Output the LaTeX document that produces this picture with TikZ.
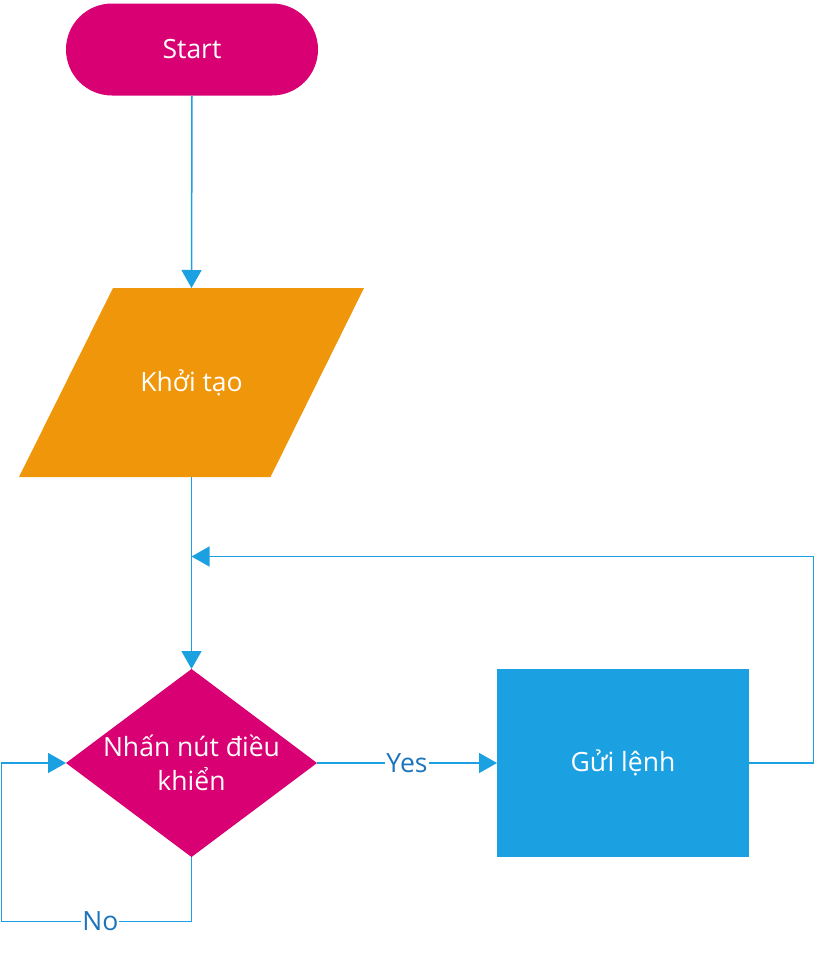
\documentclass[tikz,border=0pt]{standalone}
\usepackage{fontspec}
\setmainfont{Open Sans}
\usetikzlibrary{shapes.geometric,arrows.meta,positioning}
\definecolor{magentaC}{HTML}{D80073}
\definecolor{orangeC}{HTML}{F0960A}
\definecolor{blueC}{HTML}{1BA1E2}
\definecolor{labelC}{HTML}{1C75BC}
\tikzset{
  basefont/.style={font=\fontsize{26.5}{34}\selectfont},
  terminal/.style={basefont, rectangle, rounded corners=46pt, fill=magentaC, text=white,
    minimum width=252pt, minimum height=92pt, inner sep=0pt, outer sep=0pt},
  io/.style={basefont, rectangle, text=white,
    minimum width=345pt, minimum height=189pt, inner sep=0pt, outer sep=0pt},
  decision/.style={diamond, fill=magentaC, minimum width=251pt, minimum height=188pt,
    inner sep=0pt, outer sep=0pt},
  inner/.style={basefont, text=white, align=center, inner sep=0pt},
  process/.style={basefont, rectangle, fill=blueC, text=white,
    minimum width=252pt, minimum height=188pt, inner sep=0pt, outer sep=0pt},
  conn/.style={draw=blueC, line width=1.5pt, -{Triangle[length=18pt,width=20pt]}},
  lbl/.style={basefont, text=labelC, fill=white, inner sep=1pt}
}
\begin{document}
\begin{tikzpicture}[x=1pt,y=1pt]
\useasboundingbox (0,0) rectangle (815,-953);
\node[terminal] (start) at (192,-49.5) {Start};
\fill[orangeC] (113,-288) -- (364,-288) -- (270.5,-477) -- (19,-477) -- cycle;
\node[io] (init) at (191.5,-382.5) {Khởi tạo};
\node[decision] (dec) at (191.5,-763) {};
\node[inner] (dectext) at (191.5,-763) {Nhấn nút điều\\khiển};
\node[process] (send) at (623,-763) {Gửi lệnh};
\coordinate (fbR) at (813.5,-556.5);
\coordinate (noL) at (1.5,-921.5);
\draw[conn] (start.south) -- (init.north);
\draw[conn] (init.south) -- (dec.north);
\draw[conn] (dec.east) -- node[lbl] {Yes} (send.west);
\draw[conn] (send.east) -| (fbR) -- (fbR -| dec.north);
\draw[conn] (dec.south) |- node[lbl, pos=0.74] {No} (noL) |- (dec.west);
\end{tikzpicture}
\end{document}
